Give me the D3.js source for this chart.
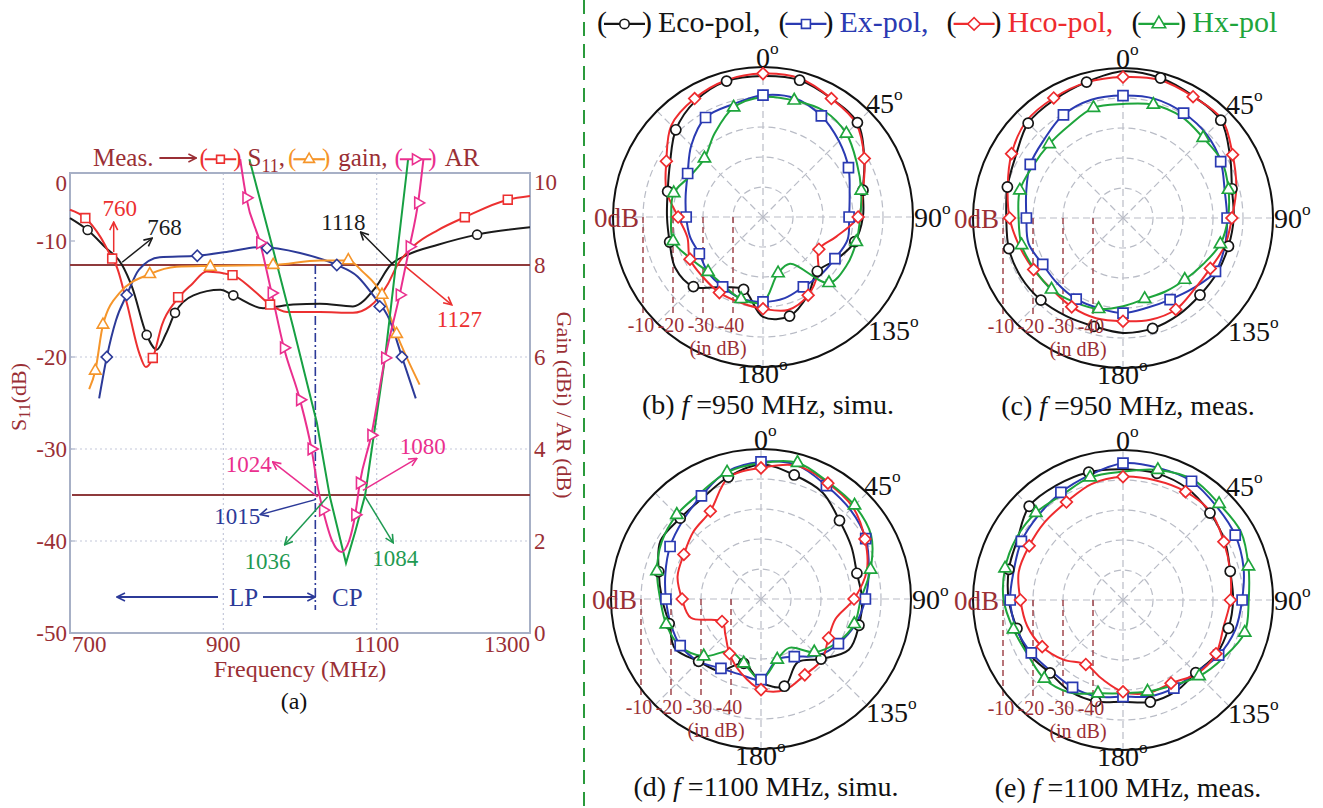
<!DOCTYPE html>
<html>
<head>
<meta charset="utf-8">
<script src="https://cdn.jsdelivr.net/npm/d3@7"></script>
<style>
body { margin: 0; background: #fff; }
svg { display: block; }
text { font-family: "Liberation Serif", "Times New Roman", serif; }
</style>
</head>
<body>
<svg id="fig" width="1323" height="808"></svg>
<script>
// ---------- panel (a): S11 / gain / AR vs frequency ----------
var xTicks = [700, 900, 1100, 1300];
var s11Ticks = [0, -10, -20, -30, -40, -50];
var rightTicks = [10, 8, 6, 4, 2, 0];

// [frequency MHz, value]
var s11Sim = [[700,-4.9],[723,-6.2],[745,-8.0],[768,-10],[781,-12.4],[800,-17.6],[813,-19.2],[825,-17.5],[837,-15.2],[861,-13.3],[896,-12.7],[913,-13.3],[952,-14.7],[991,-14.3],[1026,-14.2],[1069,-14.5],[1098,-12.5],[1118,-10],[1140,-8.9],[1180,-7.8],[1231,-6.7],[1300,-5.9]];
var s11SimMarks = [[723,-6.2],[800,-17.6],[837,-15.2],[913,-13.3],[1231,-6.7]];
var s11Meas = [[700,-4.0],[720,-4.9],[740,-7.0],[755,-9.3],[760,-10],[774,-14.1],[790,-19.5],[799,-21.1],[808,-20.1],[820,-16.5],[839,-13.8],[860,-12.0],[878,-10.7],[912,-11.1],[940,-12.8],[961,-14.3],[983,-15.1],[1026,-15.1],[1069,-15.2],[1091,-14.5],[1115,-12.0],[1127,-10],[1150,-7.8],[1180,-6.2],[1215,-4.8],[1271,-2.9],[1300,-2.5]];
var s11MeasMarks = [[720,-4.9],[755,-9.3],[808,-20.1],[841,-13.5],[912,-11.1],[961,-14.3],[1215,-4.8],[1271,-2.9]];
var gainSim = [[738,5.1],[748,6.0],[760,6.8],[774,7.35],[790,7.9],[817,8.17],[866,8.2],[910,8.3],[948,8.39],[1000,8.26],[1048,8.0],[1075,7.75],[1095,7.35],[1117,6.8],[1133,6.0],[1151,5.1]];
var gainSimMarks = [[748,6.0],[774,7.35],[866,8.2],[957,8.37],[1048,8.0],[1104,7.1],[1133,6.0]];
var gainMeas = [[725,5.3],[733,5.7],[743,6.7],[765,7.4],[804,7.8],[839,7.96],[883,7.98],[965,8.0],[1026,8.1],[1063,8.1],[1082,7.85],[1107,7.35],[1126,6.5],[1156,5.4]];
var gainMeasMarks = [[733,5.7],[743,6.7],[804,7.8],[883,7.96],[965,8.0],[1063,8.1],[1107,7.35],[1126,6.5]];
var arSim = [[934,10.3],[965,8.33],[991,6.65],[1022,4.57],[1039,2.96],[1060,1.52],[1072,2.2],[1085,3.0],[1111,6.0],[1139,10.0],[1141,10.3]];
var arMeas = [[922,10.3],[930,9.46],[948,8.48],[963,7.39],[979,6.2],[1000,5.07],[1015,4.0],[1024,3.1],[1030,2.67],[1042,2.0],[1054,1.76],[1064,2.0],[1072,2.57],[1078,3.26],[1093,4.3],[1111,5.98],[1130,7.35],[1143,8.4],[1154,9.35],[1161,10.3]];
var arMeasMarks = [[930,9.46],[948,8.48],[963,7.39],[979,6.2],[1000,5.07],[1015,4.0],[1030,2.67],[1072,2.57],[1078,3.26],[1093,4.3],[1111,5.98],[1130,7.35],[1143,8.4],[1154,9.35]];

var s11Limit = -10, arLimit = 3, lpcpFreq = 1020;

var annoText = ["760","768","1118","1127","1024","1080","1015","1036","1084"];
var annoFreq = [757, 768, 1122, 1138, 1023, 1082, 1020, 1036, 1085];
var annoS11  = [-8.6, -9.7, -10, -10.2, -35.2, -34.5, -35.5, -35.2, -35.2];

// ---------- panels (b)-(e): radiation patterns, dB at every 15 deg ----------
var angles = [0,15,30,45,60,75,90,105,120,135,150,165,180,195,210,225,240,255,270,285,300,315,330,345];
var rTicks = [-10, -20, -30, -40];

var ecoB = [-3,-2.8,-4.4,-5.5,-11,-15.5,-16.7,-18.3,-21.7,-24.4,-20,-15.8,-16.7,-25,-23,-17.2,-16.2,-17.8,-18,-17.1,-14.2,-8.9,-5.2,-3.1];
var exB  = [-9.4,-9,-11.1,-14.2,-17.1,-20.1,-21.3,-20.8,-22.3,-22.8,-23.1,-22,-21.7,-21.9,-23.1,-24,-25.5,-24.8,-24.4,-23.3,-21,-16.2,-11.7,-11.1];
var hcoB = [-2.2,-2.2,-4.4,-6,-11,-15.5,-18.3,-24.7,-28.5,-24,-19.9,-17.9,-19.4,-20.5,-20.9,-21.7,-21.9,-23.9,-21.7,-16.7,-12.8,-6.8,-4.4,-2.8];
var hxB  = [-10,-9.8,-9.2,-10.7,-13.9,-16.1,-17.6,-17.8,-17.8,-18.9,-32,-30.6,-21.7,-21.7,-23.7,-24.1,-22.2,-19,-19.4,-19.2,-22.2,-22.4,-17.8,-12.2];

var ecoC = [-1.1,-1.7,-3.1,-3.9,-8.8,-12.4,-13.1,-13.6,-13.7,-13.7,-12.8,-11.9,-11.7,-12.6,-12.2,-11.3,-10.7,-10.6,-11.1,-10.1,-8.7,-5.3,-4.4,-3.1];
var exC  = [-9.2,-8.9,-9.6,-10.6,-12.4,-14.9,-15.3,-14.8,-14.4,-16.9,-18.6,-19,-18.3,-18.9,-18.8,-19.1,-19.1,-17.4,-17.8,-16.6,-14.3,-12.9,-10.3,-9.2];
var hcoC = [-3,-2.4,-3.3,-3.4,-7.8,-10.9,-13.7,-14.8,-16.4,-16.4,-14.8,-14.9,-15.6,-15.4,-15.8,-16.4,-15.6,-14.2,-12.2,-10.2,-7.1,-4.4,-3.8,-3.2];
var hxC  = [-12,-10.9,-11,-12.2,-12,-13.6,-15,-16.4,-19.2,-20.9,-21.7,-22.1,-20.6,-18.6,-17.6,-16.3,-15.9,-15,-15.2,-14.4,-15.3,-15.2,-14.3,-12];

var ecoD = [-5.2,-7.2,-9,-13,-15.2,-16.9,-16.3,-16.2,-16.2,-21.7,-25.6,-19.9,-22.2,-27.8,-22.3,-20.6,-16.9,-18.3,-17,-14.7,-11.3,-11.9,-11.1,-7.9];
var exD  = [-4.3,-3.8,-6.4,-7.9,-9.7,-12.8,-15.2,-17.4,-20.2,-23.3,-27.8,-29.1,-23.1,-23.9,-23.3,-20.6,-18.9,-18.8,-18.3,-17,-15,-13.1,-10.3,-6];
var hcoD = [-6.3,-4,-5.4,-6.7,-10,-13.5,-19,-24.3,-24,-21.3,-20.8,-18.7,-19.8,-24.4,-29,-33.2,-35,-25.8,-23.7,-21.2,-20.3,-18.2,-16.2,-8.1];
var hxD  = [-4.7,-3,-5.1,-5.9,-7.6,-12.2,-16.7,-17.8,-20.8,-24.9,-31.2,-29.1,-23.1,-27.8,-29.8,-23,-18.7,-17.3,-16.4,-14.1,-11.8,-10.3,-9.3,-6.3];

var ecoE = [-6.4,-6.3,-7.1,-9,-10.8,-13,-13.3,-13.6,-14,-15.7,-14.8,-14.8,-16.1,-15,-14.8,-15.6,-13.9,-13.4,-11.9,-10.6,-9.4,-5.8,-5.8,-5.9];
var exE  = [-4.4,-4.4,-4.3,-5.9,-6.8,-8.4,-10.3,-11.3,-13.2,-15.8,-16.1,-16.7,-17.8,-16.7,-16.4,-16.3,-14.7,-13.2,-12.4,-12.3,-10.9,-10.1,-8.6,-6.9];
var hcoE = [-8.9,-8.7,-8.3,-8.6,-11.2,-13,-14.2,-15.3,-14.2,-15.2,-18,-17.9,-19.4,-22.8,-25.2,-21.9,-18.9,-16.9,-15.8,-14,-13.9,-13.2,-12.3,-9.9];
var hxE  = [-7.2,-5.1,-3.6,-4.7,-4.6,-6.7,-8.1,-8,-11.4,-14.1,-17.1,-18.4,-18.9,-17.8,-14.4,-12.9,-13.4,-12.2,-10.2,-9.3,-8.9,-8.9,-9.5,-7.7];

var polNames = ["Eco-pol", "Ex-pol", "Hco-pol", "Hx-pol"];

// ---------- styles ----------
var DARKRED = "#9a2f35";
var C = { black: "#1b1b1b", red: "#ec3030", blue: "#2c3a98", orange: "#f5952a", green: "#17a043", pink: "#ea2f8e" };
var PC = ["#151515", "#2a3ab2", "#ee2b2e", "#1ea53c"];
var PSYM = ["circle", "square", "diamond", "triangle"];
var POFF = [1, 0, 0, 1];

var svg = d3.select("#fig");
svg.append("rect").attr("width", 1323).attr("height", 808).attr("fill", "#fff");
var defs = svg.append("defs");

function arrowId(color) {
    var id = "arr" + color.replace("#", "");
    if (defs.select("#" + id).empty()) {
        defs.append("marker").attr("id", id)
            .attr("viewBox", "0 0 10 10").attr("refX", 9).attr("refY", 5)
            .attr("markerWidth", 10).attr("markerHeight", 10)
            .attr("markerUnits", "userSpaceOnUse").attr("orient", "auto")
          .append("path").attr("d", "M1,1 L9,5 L1,9")
            .attr("fill", "none").attr("stroke", color).attr("stroke-width", 1.6);
    }
    return "url(#" + id + ")";
}

function symPath(type, size) {
    if (type === "circle") return d3.symbol(d3.symbolCircle, size)();
    if (type === "triangle" || type === "tright") return d3.symbol(d3.symbolTriangle, size)();
    return d3.symbol(d3.symbolSquare, size)();
}
function symRot(type) {
    if (type === "diamond") return 45;
    if (type === "tright") return 90;
    return 0;
}
function drawSym(g, type, x, y, color, size, sw) {
    g.append("path").attr("d", symPath(type, size))
        .attr("transform", "translate(" + x + "," + y + ") rotate(" + symRot(type) + ")")
        .attr("fill", "#fff").attr("stroke", color).attr("stroke-width", sw || 1.6);
}

// legend symbol "(-o-)" ; returns x after it
function legendSym(g, x, y, color, type, fs, parenColor, size, lw) {
    var pw = fs * 0.333, my = y - fs * 0.27;
    lw = lw || fs * 1.02;
    g.append("text").attr("x", x).attr("y", y).attr("fill", parenColor).style("font-size", fs + "px").text("(");
    g.append("line").attr("x1", x + pw - 3).attr("x2", x + pw + lw + 3).attr("y1", my).attr("y2", my)
        .attr("stroke", color).attr("stroke-width", 2.2);
    drawSym(g, type, x + pw + lw / 2, my, color, size, 1.6);
    g.append("text").attr("x", x + pw + lw).attr("y", y).attr("fill", parenColor).style("font-size", fs + "px").text(")");
    return x + 2 * pw + lw;
}

// ================= panel (a) =================
var x = d3.scaleLinear().domain([700, 1300]).range([70, 530]);
var yL = d3.scaleLinear().domain([-50, 0]).range([633, 173]);
var yR = d3.scaleLinear().domain([0, 10]).range([633, 173]);
var ga = svg.append("g");

// grid
ga.selectAll(".hg").data([-20, -30, -40]).enter().append("line")
    .attr("x1", 70).attr("x2", 530).attr("y1", yL).attr("y2", yL)
    .attr("stroke", "#c3c8da").attr("stroke-width", 1.2).attr("stroke-dasharray", "2,3");
ga.selectAll(".vg").data([900, 1100]).enter().append("line")
    .attr("x1", x).attr("x2", x).attr("y1", 173).attr("y2", 633)
    .attr("stroke", "#c3c8da").attr("stroke-width", 1.2).attr("stroke-dasharray", "2,3");
ga.append("rect").attr("x", 70).attr("y", 173).attr("width", 460).attr("height", 460)
    .attr("fill", "none").attr("stroke", "#a7b0c6").attr("stroke-width", 2);

// limit lines
ga.append("line").attr("x1", 70).attr("x2", 530).attr("y1", yL(s11Limit)).attr("y2", yL(s11Limit))
    .attr("stroke", "#8e3a3c").attr("stroke-width", 1.8);
ga.append("line").attr("x1", 72).attr("x2", 530).attr("y1", yR(arLimit)).attr("y2", yR(arLimit))
    .attr("stroke", "#8e3a3c").attr("stroke-width", 1.8);

// axes labels
var leftNudge = { "0": 10, "-10": -24 };
ga.selectAll(".lt").data(s11Ticks).enter().append("text")
    .attr("x", 67).attr("y", function(d) { return yL(d) + (leftNudge[d] || 0); })
    .attr("dy", "0.35em").attr("text-anchor", "end").attr("fill", DARKRED)
    .style("font-size", "23px").text(function(d) { return d; });
ga.selectAll(".lt2").data(s11Ticks.slice(1)).enter().append("line")
    .attr("x1", 70).attr("x2", 75).attr("y1", function(d) { return yL(d) + (leftNudge[d] || 0); })
    .attr("y2", function(d) { return yL(d) + (leftNudge[d] || 0); })
    .attr("stroke", "#a7b0c6").attr("stroke-width", 1.2);
ga.selectAll(".rt").data(rightTicks).enter().append("text")
    .attr("x", 534).attr("y", function(d) { return yR(d) + (d === 10 ? 9 : 0); })
    .attr("dy", "0.35em").attr("fill", DARKRED)
    .style("font-size", "23px").text(function(d) { return d; });
ga.selectAll(".xt").data(xTicks).enter().append("text")
    .attr("x", function(d, i) { return i === 0 ? x(d) + 2 : x(d); })
    .attr("y", 652)
    .attr("text-anchor", function(d, i) { return i === 0 ? "start" : (i === xTicks.length - 1 ? "end" : "middle"); })
    .attr("fill", DARKRED).style("font-size", "23px").text(function(d) { return d; });

ga.append("text").attr("x", 300).attr("y", 677).attr("text-anchor", "middle")
    .attr("fill", DARKRED).style("font-size", "24px").text("Frequency (MHz)");
ga.append("text").attr("x", 294).attr("y", 709).attr("text-anchor", "middle")
    .attr("fill", "#111").style("font-size", "24px").text("(a)");

var lt = ga.append("text").attr("transform", "translate(26,397) rotate(-90)")
    .attr("text-anchor", "middle").attr("fill", DARKRED).style("font-size", "22px");
lt.append("tspan").text("S");
lt.append("tspan").attr("dy", 4).style("font-size", "16px").text("11");
lt.append("tspan").attr("dy", -4).text("(dB)");
ga.append("text").attr("transform", "translate(557,405) rotate(90)")
    .attr("text-anchor", "middle").attr("fill", DARKRED).style("font-size", "22px")
    .text("Gain (dBi) / AR (dB)");

// LP / CP
ga.append("line").attr("x1", x(lpcpFreq)).attr("x2", x(lpcpFreq))
    .attr("y1", yL(s11Limit)).attr("y2", yL(-47.5))
    .attr("stroke", C.blue).attr("stroke-width", 1.6).attr("stroke-dasharray", "9,3,2,3");
ga.append("line").attr("x1", 218).attr("x2", 117).attr("y1", 597).attr("y2", 597)
    .attr("stroke", C.blue).attr("stroke-width", 2).attr("marker-end", arrowId(C.blue));
ga.append("text").attr("x", 229).attr("y", 606).attr("fill", C.blue).style("font-size", "25px").text("LP");
ga.append("line").attr("x1", 263).attr("x2", x(lpcpFreq)).attr("y1", 597).attr("y2", 597)
    .attr("stroke", C.blue).attr("stroke-width", 2).attr("marker-end", arrowId(C.blue));
ga.append("text").attr("x", 332).attr("y", 606).attr("fill", C.blue).style("font-size", "25px").text("CP");

// curves
var series = [
    { data: s11Sim,  marks: s11SimMarks,  y: yL, color: C.black,  sym: "circle",   curve: d3.curveMonotoneX },
    { data: s11Meas, marks: s11MeasMarks, y: yL, color: C.red,    sym: "square",   curve: d3.curveMonotoneX },
    { data: gainSim, marks: gainSimMarks, y: yR, color: C.blue,   sym: "diamond",  curve: d3.curveMonotoneX },
    { data: gainMeas,marks: gainMeasMarks,y: yR, color: C.orange, sym: "triangle", curve: d3.curveMonotoneX },
    { data: arSim,   marks: [],           y: yR, color: C.green,  sym: null,       curve: d3.curveLinear },
    { data: arMeas,  marks: arMeasMarks,  y: yR, color: C.pink,   sym: "tright",   curve: d3.curveMonotoneX }
];
series.forEach(function(s) {
    var ln = d3.line().x(function(d) { return x(d[0]); }).y(function(d) { return s.y(d[1]); }).curve(s.curve);
    ga.append("path").attr("d", ln(s.data)).attr("fill", "none")
        .attr("stroke", s.color).attr("stroke-width", 2);
});
series.forEach(function(s) {
    var size = s.sym === "circle" ? 64 : (s.sym === "square" ? 78 : (s.sym === "diamond" ? 62 : 58));
    s.marks.forEach(function(d) { drawSym(ga, s.sym, x(d[0]), s.y(d[1]), s.color, size, 1.6); });
});

// annotations
var annoColor = [C.red, C.black, C.black, C.red, C.pink, C.pink, C.blue, "#1f9a52", "#1f9a52"];
var annoTip = [[0,-30],[30,-24],[-33,-33],[46,38],[-45,-35],[54,-32],[-55,15],[-43,48],[28,46]];
var annoTxt = [[6,-6,"middle"],[-5,-3,"start"],[5,-2,"end"],[-15,22,"start"],[-1,10,"end"],[-17,-4,"start"],[0,9,"end"],[-17,24,"middle"],[2,23,"middle"]];
annoText.forEach(function(t, i) {
    var x0 = x(annoFreq[i]), y0 = yL(annoS11[i]);
    var x1 = x0 + annoTip[i][0], y1 = y0 + annoTip[i][1];
    var col = annoColor[i];
    ga.append("line").attr("x1", x0).attr("y1", y0).attr("x2", x1).attr("y2", y1)
        .attr("stroke", col).attr("stroke-width", 1.5).attr("marker-end", arrowId(col));
    ga.append("text").attr("x", x1 + annoTxt[i][0]).attr("y", y1 + annoTxt[i][1])
        .attr("text-anchor", annoTxt[i][2]).attr("fill", col).style("font-size", "23px").text(t);
});

// legend of (a)
(function() {
    var g = ga.append("g"), y = 166, fs = 25;
    var t = g.append("text").attr("x", 93).attr("y", y).attr("fill", DARKRED).style("font-size", fs + "px").text("Meas.");
    var xx = 93 + t.node().getComputedTextLength() + 6;
    g.append("line").attr("x1", xx).attr("x2", xx + 37).attr("y1", y - 8).attr("y2", y - 8)
        .attr("stroke", DARKRED).attr("stroke-width", 2).attr("marker-end", arrowId(DARKRED));
    xx += 40;
    xx = legendSym(g, xx, y, C.red, "square", fs, C.red, 60) + 6;
    var s = g.append("text").attr("x", xx).attr("y", y).attr("fill", DARKRED).style("font-size", fs + "px");
    s.append("tspan").text("S");
    s.append("tspan").attr("dy", 6).style("font-size", "18px").text("11");
    s.append("tspan").attr("dy", -6).text(",");
    xx += s.node().getComputedTextLength() + 3;
    xx = legendSym(g, xx, y, C.orange, "triangle", fs, C.orange, 50) + 8;
    t = g.append("text").attr("x", xx).attr("y", y).attr("fill", DARKRED).style("font-size", fs + "px").text("gain,");
    xx += t.node().getComputedTextLength() + 7;
    xx = legendSym(g, xx, y, C.pink, "tright", fs, C.pink, 50) + 8;
    g.append("text").attr("x", xx).attr("y", y).attr("fill", DARKRED).style("font-size", fs + "px").text("AR");
})();

// divider
svg.append("line").attr("x1", 584).attr("x2", 584).attr("y1", 0).attr("y2", 808)
    .attr("stroke", "#2a9a3c").attr("stroke-width", 2).attr("stroke-dasharray", "14,8");

// ================= polar panels =================
var rScale = d3.scaleLinear().domain([-50, 0]).range([0, 150]);
var R = rScale(0);

function degText(g, x, y, num, anchor, fs, color) {
    var t = g.append("text").attr("x", x).attr("y", y).attr("text-anchor", anchor)
        .attr("fill", color || "#111").style("font-size", fs + "px");
    t.append("tspan").text(num);
    t.append("tspan").attr("dy", -fs * 0.45).style("font-size", (fs * 0.62) + "px").text("o");
    return t;
}

function polarPanel(cx, cy, data, letter, freq, kind) {
    var g = svg.append("g").attr("transform", "translate(" + cx + "," + cy + ")");

    // grid
    g.selectAll(".gc").data(rTicks).enter().append("circle").attr("r", function(d) { return rScale(d); })
        .attr("fill", "none").attr("stroke", "#b9bcc6").attr("stroke-width", 1.2).attr("stroke-dasharray", "7,4");
    g.selectAll(".gr").data([0, 45, 90, 135, 180, 225, 270, 315]).enter().append("line")
        .attr("x1", 0).attr("y1", 0)
        .attr("x2", function(d) { return d3.pointRadial(d * Math.PI / 180, R)[0]; })
        .attr("y2", function(d) { return d3.pointRadial(d * Math.PI / 180, R)[1]; })
        .attr("stroke", "#b9bcc6").attr("stroke-width", 1.2).attr("stroke-dasharray", "7,4");
    g.selectAll(".rl").data(rTicks).enter().append("line")
        .attr("x1", function(d) { return -rScale(d); }).attr("x2", function(d) { return -rScale(d); })
        .attr("y1", 0).attr("y2", 96)
        .attr("stroke", "#9a3a40").attr("stroke-width", 1.4).attr("stroke-dasharray", "6,4");
    g.append("circle").attr("r", R).attr("fill", "none").attr("stroke", "#111").attr("stroke-width", 2);

    // patterns
    var rl = d3.lineRadial()
        .angle(function(d, i) { return angles[i] * Math.PI / 180; })
        .radius(function(d) { return rScale(d); })
        .curve(d3.curveCatmullRomClosed.alpha(0.5));
    data.forEach(function(vals, k) {
        g.append("path").attr("d", rl(vals)).attr("fill", "none")
            .attr("stroke", PC[k]).attr("stroke-width", 2);
    });
    data.forEach(function(vals, k) {
        var size = PSYM[k] === "circle" ? 80 : (PSYM[k] === "square" ? 100 : (PSYM[k] === "diamond" ? 68 : 64));
        vals.forEach(function(v, i) {
            if (i % 2 !== POFF[k]) return;
            var p = d3.pointRadial(angles[i] * Math.PI / 180, rScale(v));
            drawSym(g, PSYM[k], p[0], p[1], PC[k], size, 1.7);
        });
    });

    // labels
    degText(g, -7, -150, "0", "start", 28);
    degText(g, 103, -104, "45", "start", 28);
    degText(g, 151, 10, "90", "start", 28);
    degText(g, 105, 123, "135", "start", 28);
    degText(g, -26, 166, "180", "start", 28);
    g.append("text").attr("x", -124).attr("y", 10).attr("text-anchor", "end")
        .attr("fill", DARKRED).style("font-size", "27px").text("0dB");
    g.selectAll(".rt").data(rTicks).enter().append("text")
        .attr("x", function(d) { return -rScale(d) - 2; }).attr("y", 115).attr("text-anchor", "middle")
        .attr("fill", DARKRED).style("font-size", "20px").text(function(d) { return d; });
    g.append("text").attr("x", -45).attr("y", 138).attr("text-anchor", "middle")
        .attr("fill", DARKRED).style("font-size", "20px").text("(in dB)");

    var cap = g.append("text").attr("x", 5).attr("y", 197).attr("text-anchor", "middle")
        .attr("fill", "#111").style("font-size", "28px");
    cap.append("tspan").text("(" + letter + ") ");
    cap.append("tspan").style("font-style", "italic").text("f");
    cap.append("tspan").text(" =" + freq + " MHz, " + kind);
}

polarPanel(763, 217, [ecoB, exB, hcoB, hxB], "b", 950, "simu.");
polarPanel(1123, 218, [ecoC, exC, hcoC, hxC], "c", 950, "meas.");
polarPanel(761, 599, [ecoD, exD, hcoD, hxD], "d", 1100, "simu.");
polarPanel(1123, 600, [ecoE, exE, hcoE, hxE], "e", 1100, "meas.");

// legend of polar panels
(function() {
    var g = svg.append("g"), y = 32, fs = 30, xx = 597;
    polNames.forEach(function(name, k) {
        xx = legendSym(g, xx, y, PC[k], PSYM[k], fs, "#111", k === 0 ? 70 : 80, 35) + 6;
        var t = g.append("text").attr("x", xx).attr("y", y).attr("fill", PC[k])
            .style("font-size", fs + "px").text(name + (k < polNames.length - 1 ? "," : ""));
        xx += t.node().getComputedTextLength() + 18;
    });
})();
</script>
</body>
</html>
